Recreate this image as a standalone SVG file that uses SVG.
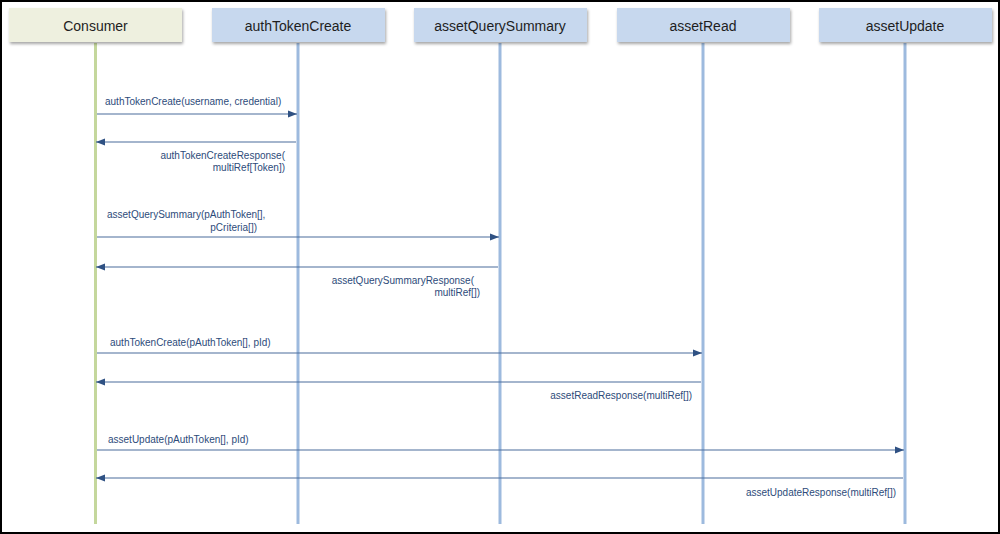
<svg xmlns="http://www.w3.org/2000/svg" width="1000" height="534" viewBox="0 0 1000 534">
<style>
.box{stroke:none}
.hdr{font-family:"Liberation Sans",Arial,sans-serif;font-size:14px;fill:#1e1e1e;text-anchor:middle}
.msg{font-family:"Liberation Sans",Arial,sans-serif;font-size:10px;fill:#2d4b7a}
.end{text-anchor:end}
.life{stroke:#9dbade;stroke-width:3;fill:none}
.lifeC{stroke:#c4d79c;stroke-width:3;fill:none}
.arr{stroke:#4a6c9b;stroke-width:1.2;fill:none;marker-end:url(#ah)}
</style>
<defs>
<filter id="sh" x="-10%" y="-30%" width="120%" height="170%">
<feDropShadow dx="1" dy="2" stdDeviation="1.5" flood-color="#000" flood-opacity="0.35"/>
</filter>
<marker id="ah" viewBox="0 0 10 8" refX="10" refY="4" markerWidth="9" markerHeight="7.2" markerUnits="userSpaceOnUse" orient="auto">
<path d="M0,0 L10,4 L0,8 z" fill="#2f5183"/>
</marker>
</defs>
<rect x="0" y="0" width="1000" height="534" fill="#ffffff"/>
<g id="lifelines">
<line class="lifeC" x1="95.5" y1="43" x2="95.5" y2="524"/>
<line class="life" x1="298" y1="43" x2="298" y2="524"/>
<line class="life" x1="500" y1="43" x2="500" y2="524"/>
<line class="life" x1="703" y1="43" x2="703" y2="524"/>
<line class="life" x1="905" y1="43" x2="905" y2="524"/>
</g>
<g id="node-consumer">
<rect class="box" x="9" y="8" width="173" height="34" fill="#eef0df" filter="url(#sh)"/>
<text class="hdr" x="95.5" y="31">Consumer</text>
</g>
<g id="node-authTokenCreate">
<rect class="box" x="212" y="8" width="173" height="34" fill="#c7d8ee" filter="url(#sh)"/>
<text class="hdr" x="298" y="31">authTokenCreate</text>
</g>
<g id="node-assetQuerySummary">
<rect class="box" x="414" y="8" width="173" height="34" fill="#c7d8ee" filter="url(#sh)"/>
<text class="hdr" x="500" y="31">assetQuerySummary</text>
</g>
<g id="node-assetRead">
<rect class="box" x="617" y="8" width="173" height="34" fill="#c7d8ee" filter="url(#sh)"/>
<text class="hdr" x="703" y="31">assetRead</text>
</g>
<g id="node-assetUpdate">
<rect class="box" x="819" y="8" width="173" height="34" fill="#c7d8ee" filter="url(#sh)"/>
<text class="hdr" x="905" y="31">assetUpdate</text>
</g>
<g id="connectors">
<line class="arr" x1="97" y1="114" x2="297" y2="114"/>
<line class="arr" x1="296" y1="142" x2="96" y2="142"/>
<line class="arr" x1="97" y1="237" x2="499" y2="237"/>
<line class="arr" x1="498" y1="267" x2="96" y2="267"/>
<line class="arr" x1="97" y1="353" x2="702" y2="353"/>
<line class="arr" x1="701" y1="382" x2="96" y2="382"/>
<line class="arr" x1="97" y1="450" x2="904" y2="450"/>
<line class="arr" x1="903" y1="478" x2="96" y2="478"/>
</g>
<g id="labels">
<text class="msg" x="105" y="105">authTokenCreate(username, credential)</text>
<text class="msg end" x="285" y="159">authTokenCreateResponse(</text>
<text class="msg end" x="285" y="171">multiRef[Token])</text>
<text class="msg" x="107" y="218">assetQuerySummary(pAuthToken[],</text>
<text class="msg end" x="257" y="231">pCriteria[])</text>
<text class="msg end" x="474" y="284">assetQuerySummaryResponse(</text>
<text class="msg end" x="480" y="296">multiRef[])</text>
<text class="msg" x="110" y="346">authTokenCreate(pAuthToken[], pId)</text>
<text class="msg end" x="692" y="399">assetReadResponse(multiRef[])</text>
<text class="msg" x="108" y="443">assetUpdate(pAuthToken[], pId)</text>
<text class="msg end" x="896" y="496">assetUpdateResponse(multiRef[])</text>
</g>
<rect x="1" y="1" width="998" height="532" fill="none" stroke="#000" stroke-width="2"/>
</svg>
